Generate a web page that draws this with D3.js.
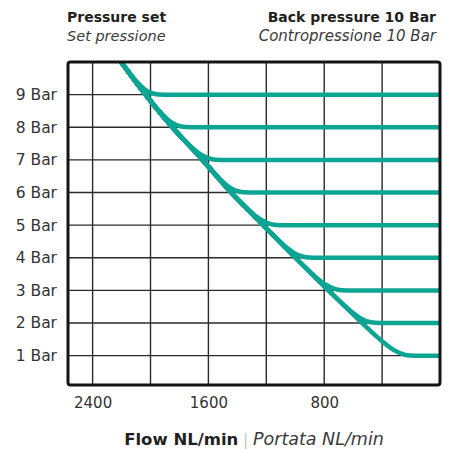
<!DOCTYPE html>
<html><head><meta charset="utf-8">
<script src="https://cdn.jsdelivr.net/npm/d3@7/dist/d3.min.js"></script>
<style>html,body{margin:0;padding:0;background:#fff;}svg{display:block;}</style>
</head><body>
<script>
// ---- data ----
const pressureLevels = [9, 8, 7, 6, 5, 4, 3, 2, 1];           // Bar
const envelopeBar  = [10, 9.5, 9, 8.5, 8, 7.5, 7, 6.5, 6, 5.5, 5, 4.5, 4, 3.5, 3, 2.5, 2, 1.5, 1];
const envelopeFlow = [2204, 2120, 2035, 1945, 1852, 1745, 1640, 1542, 1447, 1330, 1222, 1110, 1000, 885, 770, 655, 540, 420, 300];
const flatOffsets = [130, 260];                                 // NL/min past the knee, flat section
const xGridValues = [2400, 2000, 1600, 1200, 800, 400];
const xTickLabels = [2400, 1600, 800];
const yTickValues = [1, 2, 3, 4, 5, 6, 7, 8, 9];

const W = 452, H = 452;
const svg = d3.select("body").append("svg").attr("width", W).attr("height", H);

const x = d3.scaleLinear().domain([2570, 0]).range([68, 440]);
const y = d3.scaleLinear().domain([0.1, 10]).range([385, 62]);

const teal = "#0ca594";
const font = "'DejaVu Sans', sans-serif";

// grid
const grid = svg.append("g");
grid.selectAll("line.v").data(xGridValues).join("line")
  .attr("x1", d => x(d)).attr("x2", d => x(d))
  .attr("y1", y.range()[1]).attr("y2", y.range()[0])
  .attr("stroke", "#2a2a2a").attr("stroke-width", 1.4);
grid.selectAll("line.h").data(yTickValues).join("line")
  .attr("y1", d => y(d)).attr("y2", d => y(d))
  .attr("x1", x.range()[0]).attr("x2", x.range()[1])
  .attr("stroke", "#2a2a2a").attr("stroke-width", 1.4);

// curves
const line = d3.line().x(d => x(d[0])).y(d => y(d[1])).curve(d3.curveBasis);
const curves = pressureLevels.map(p => {
  const pts = [];
  envelopeBar.forEach((b, i) => { if (b > p + 0.5) pts.push([envelopeFlow[i], b]); });
  const knee = envelopeFlow[envelopeBar.indexOf(p)];
  pts.push([knee, p]);
  flatOffsets.forEach(o => pts.push([knee - o, p]));
  pts.push([0, p]);
  return pts;
});
svg.append("defs").append("clipPath").attr("id", "clip")
  .append("rect").attr("x", 68).attr("y", 62).attr("width", 372).attr("height", 323);
svg.append("g").attr("clip-path", "url(#clip)")
  .selectAll("path").data(curves).join("path")
  .attr("d", line).attr("fill", "none").attr("stroke", teal)
  .attr("stroke-width", 4.5).attr("stroke-linecap", "butt");

// frame
svg.append("rect").attr("x", 68).attr("y", 62).attr("width", 372).attr("height", 323)
  .attr("rx", 2.5).attr("fill", "none").attr("stroke", "#151515").attr("stroke-width", 3);

// y axis labels
const yAxis = d3.axisLeft(y).tickValues(yTickValues).tickSize(0).tickPadding(11)
  .tickFormat(d => d + " Bar");
const gy = svg.append("g").attr("transform", "translate(68,0)").call(yAxis);
gy.select(".domain").remove();
gy.selectAll("text").attr("font-family", font).attr("font-size", 15.5).attr("fill", "#333");

// x axis labels
const xAxis = d3.axisBottom(x).tickValues(xTickLabels).tickSize(0).tickPadding(12)
  .tickFormat(d3.format("d"));
const gx = svg.append("g").attr("transform", "translate(0,385)").call(xAxis);
gx.select(".domain").remove();
gx.selectAll("text").attr("font-family", font).attr("font-size", 15).attr("fill", "#333");

// titles
svg.append("text").attr("x", 67).attr("y", 22).attr("font-family", font)
  .attr("font-weight", "bold").attr("font-size", 14).attr("fill", "#231f20").text("Pressure set");
svg.append("text").attr("x", 67).attr("y", 41).attr("font-family", font)
  .attr("font-style", "italic").attr("font-size", 14.5).attr("fill", "#3a3a3a").text("Set pressione");
svg.append("text").attr("x", 436).attr("y", 22).attr("text-anchor", "end").attr("font-family", font)
  .attr("font-weight", "bold").attr("font-size", 14).attr("fill", "#231f20").text("Back pressure 10 Bar");
svg.append("text").attr("x", 436).attr("y", 41).attr("text-anchor", "end").attr("font-family", font)
  .attr("font-style", "italic").attr("font-size", 15).attr("fill", "#3a3a3a").text("Contropressione 10 Bar");

// x axis title
const t = svg.append("text").attr("x", 254).attr("y", 445).attr("text-anchor", "middle")
  .attr("font-family", font).attr("font-size", 16.5);
t.append("tspan").attr("font-weight", "bold").attr("fill", "#231f20").text("Flow NL/min");
t.append("tspan").attr("fill", "#c4c4c4").attr("font-size", 15).text(" | ");
t.append("tspan").attr("font-style", "italic").attr("fill", "#3a3a3a").attr("font-size", 17.5).text("Portata NL/min");
</script>
</body></html>
